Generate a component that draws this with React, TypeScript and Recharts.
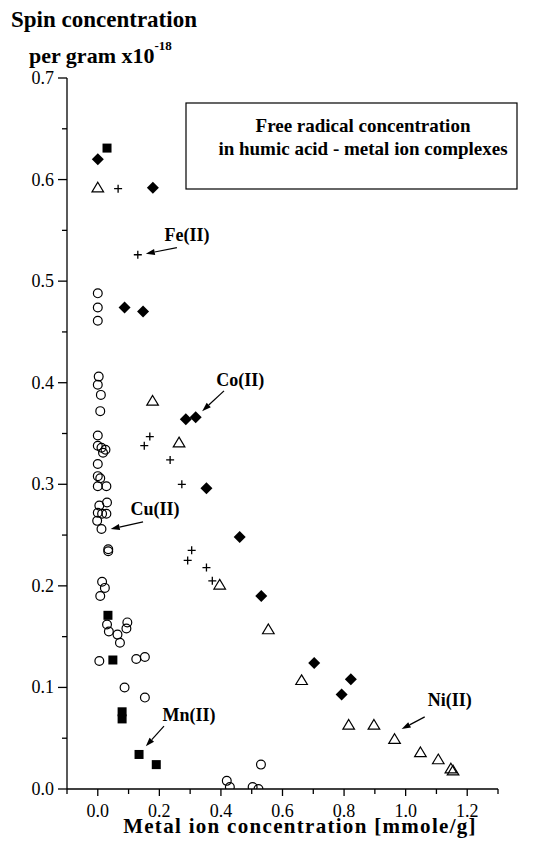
import React from "react";
import {
  ScatterChart,
  Scatter,
  XAxis,
  YAxis,
  ReferenceLine,
  ReferenceDot,
} from "recharts";

const FONT = "'Liberation Serif', 'Times New Roman', serif";
const serif = { fontFamily: FONT };
const serifBold = { fontFamily: FONT, fontWeight: 700 };

// [metal ion mmole/g, spins per gram x1e-18]
const cuPoints: [number, number][] = [
  [0.0, 0.488], [0.0, 0.474], [0.0, 0.461],
  [0.003, 0.406], [0.0, 0.398], [0.01, 0.388], [0.008, 0.372],
  [0.0, 0.348], [0.0, 0.338], [0.012, 0.336], [0.025, 0.334], [0.017, 0.331],
  [0.0, 0.32], [0.0, 0.308], [0.008, 0.306], [0.0, 0.298], [0.028, 0.298],
  [0.03, 0.282], [0.005, 0.279], [0.0, 0.272], [0.014, 0.271], [0.028, 0.271],
  [-0.002, 0.264], [0.012, 0.256],
  [0.034, 0.236], [0.034, 0.234],
  [0.014, 0.204], [0.023, 0.198], [0.008, 0.19],
  [0.03, 0.162], [0.036, 0.155], [0.064, 0.152], [0.096, 0.164], [0.093, 0.158], [0.072, 0.144],
  [0.005, 0.126], [0.125, 0.128], [0.153, 0.13],
  [0.087, 0.1], [0.153, 0.09],
  [0.53, 0.024], [0.419, 0.008], [0.429, 0.002], [0.503, 0.002], [0.522, 0.0],
];
const mnPoints: [number, number][] = [
  [0.03, 0.631], [0.033, 0.171], [0.049, 0.127], [0.079, 0.076],
  [0.079, 0.069], [0.134, 0.034], [0.19, 0.024],
];
const fePoints: [number, number][] = [
  [0.066, 0.591], [0.13, 0.526], [0.169, 0.347], [0.151, 0.338], [0.235, 0.324],
  [0.273, 0.3], [0.305, 0.235], [0.292, 0.225], [0.353, 0.218], [0.372, 0.205],
];
const coPoints: [number, number][] = [
  [0.0, 0.62], [0.179, 0.592], [0.087, 0.474], [0.147, 0.47], [0.286, 0.364],
  [0.318, 0.366], [0.353, 0.296], [0.461, 0.248], [0.531, 0.19], [0.703, 0.124],
  [0.822, 0.108], [0.792, 0.093],
];
const niPoints: [number, number][] = [
  [0.0, 0.592], [0.178, 0.382], [0.264, 0.341], [0.396, 0.201], [0.554, 0.157],
  [0.662, 0.107], [0.815, 0.063], [0.897, 0.063], [0.964, 0.049], [1.048, 0.036],
  [1.106, 0.029], [1.147, 0.02], [1.154, 0.018],
];

const xTicks = [-0.1, 0, 0.1, 0.2, 0.3, 0.4, 0.5, 0.6, 0.7, 0.8, 0.9, 1.0, 1.1, 1.2, 1.3];
const yTicks = [0, 0.05, 0.1, 0.15, 0.2, 0.25, 0.3, 0.35, 0.4, 0.45, 0.5, 0.55, 0.6, 0.65, 0.7];

// label, arrow start, arrow end, label position
const annotations = [
  { text: "Fe(II)", from: [0.257, 0.533], to: [0.156, 0.527], at: [0.29, 0.545] },
  { text: "Co(II)", from: [0.41, 0.392], to: [0.339, 0.372], at: [0.463, 0.403] },
  { text: "Cu(II)", from: [0.147, 0.263], to: [0.042, 0.256], at: [0.186, 0.276] },
  { text: "Mn(II)", from: [0.215, 0.062], to: [0.156, 0.042], at: [0.296, 0.073] },
  { text: "Ni(II)", from: [1.062, 0.071], to: [0.987, 0.059], at: [1.143, 0.088] },
];

const toRows = (pts: [number, number][]) => pts.map(([x, y]) => ({ x, y }));

const OpenCircle = (p: any) => (
  <circle cx={p.cx} cy={p.cy} r={4.4} fill="none" stroke="#000" strokeWidth={1.2} />
);
const FilledSquare = (p: any) => (
  <rect x={p.cx - 4.5} y={p.cy - 4.5} width={9} height={9} fill="#000" />
);
const Plus = (p: any) => (
  <path
    d={`M${p.cx - 4},${p.cy}H${p.cx + 4}M${p.cx},${p.cy - 4}V${p.cy + 4}`}
    stroke="#000"
    strokeWidth={1.3}
  />
);
const Diamond = (p: any) => (
  <path
    d={`M${p.cx},${p.cy - 6}L${p.cx + 6},${p.cy}L${p.cx},${p.cy + 6}L${p.cx - 6},${p.cy}Z`}
    fill="#000"
  />
);
const OpenTriangle = (p: any) => (
  <path
    d={`M${p.cx},${p.cy - 5.5}L${p.cx + 5.8},${p.cy + 4.2}L${p.cx - 5.8},${p.cy + 4.2}Z`}
    fill="none"
    stroke="#000"
    strokeWidth={1.2}
  />
);

const Arrow = (p: any) => {
  const { x1, y1, x2, y2 } = p;
  const a = Math.atan2(y2 - y1, x2 - x1);
  const len = 9;
  const w = 3;
  const bx = x2 - len * Math.cos(a);
  const by = y2 - len * Math.sin(a);
  const nx = -Math.sin(a) * w;
  const ny = Math.cos(a) * w;
  return (
    <g>
      <line x1={x1} y1={y1} x2={bx} y2={by} stroke="#000" strokeWidth={1.2} />
      <path d={`M${x2},${y2}L${bx + nx},${by + ny}L${bx - nx},${by - ny}Z`} fill="#000" />
    </g>
  );
};

const YTick = (p: any) => {
  const v = p.payload.value;
  const major = Math.round(v * 100) % 10 === 0;
  return (
    <g>
      <line x1={p.x} y1={p.y} x2={p.x - (major ? 9 : 5)} y2={p.y} stroke="#000" strokeWidth={1.3} />
      {major && (
        <text x={p.x - 13} y={p.y + 6} textAnchor="end" fontSize={18} style={serif} fill="#000">
          {v.toFixed(1)}
        </text>
      )}
    </g>
  );
};

const XTick = (p: any) => {
  const v = p.payload.value;
  const major = Math.round(v * 10) % 2 === 0;
  return (
    <g>
      <line x1={p.x} y1={p.y} x2={p.x} y2={p.y + (major ? 7 : 5)} stroke="#000" strokeWidth={1.3} />
      {major && v >= 0 && (
        <text x={p.x} y={p.y + 28} textAnchor="middle" fontSize={18} style={serif} fill="#000">
          {v.toFixed(1)}
        </text>
      )}
    </g>
  );
};

export default function App() {
  return (
    <div style={{ position: "relative", width: 533, height: 833, background: "#fff" }}>
      <ScatterChart width={533} height={825} margin={{ top: 70, right: 43, bottom: 0, left: 0 }}>
        <XAxis
          type="number"
          dataKey="x"
          domain={[-0.1, 1.3]}
          ticks={xTicks}
          interval={0}
          allowDataOverflow
          height={44}
          tickSize={0}
          tickMargin={0}
          tickLine={false}
          tick={<XTick />}
          axisLine={{ stroke: "#000", strokeWidth: 1.3 }}
        />
        <YAxis
          type="number"
          dataKey="y"
          domain={[0, 0.7]}
          ticks={yTicks}
          interval={0}
          allowDataOverflow
          width={59}
          tickSize={0}
          tickMargin={0}
          tickLine={false}
          tick={<YTick />}
          axisLine={{ stroke: "#000", strokeWidth: 1.3 }}
        />
        <Scatter name="Cu(II)" data={toRows(cuPoints)} shape={OpenCircle} isAnimationActive={false} />
        <Scatter name="Mn(II)" data={toRows(mnPoints)} shape={FilledSquare} isAnimationActive={false} />
        <Scatter name="Fe(II)" data={toRows(fePoints)} shape={Plus} isAnimationActive={false} />
        <Scatter name="Co(II)" data={toRows(coPoints)} shape={Diamond} isAnimationActive={false} />
        <Scatter name="Ni(II)" data={toRows(niPoints)} shape={OpenTriangle} isAnimationActive={false} />
        {annotations.map((a) => (
          <ReferenceLine
            key={a.text + "-arrow"}
            segment={[
              { x: a.from[0], y: a.from[1] },
              { x: a.to[0], y: a.to[1] },
            ]}
            shape={Arrow}
          />
        ))}
        {annotations.map((a) => (
          <ReferenceDot
            key={a.text}
            x={a.at[0]}
            y={a.at[1]}
            r={0}
            shape={(p: any) => (
              <text x={p.cx} y={p.cy + 6} textAnchor="middle" fontSize={18} style={serifBold} fill="#000">
                {a.text}
              </text>
            )}
          />
        ))}
      </ScatterChart>
      <svg
        width={533}
        height={833}
        style={{ position: "absolute", left: 0, top: 0, pointerEvents: "none", overflow: "visible" }}
      >
        <text x={3} y={19} fontSize={23} style={serifBold}>Spin concentration</text>
        <text x={21} y={55} fontSize={22} style={serifBold}>
          per gram x10
          <tspan dy={-13} fontSize={13}>-18</tspan>
        </text>
        <rect x={178} y={95} width={331} height={86} fill="#fff" stroke="#000" strokeWidth={1.2} />
        <text x={355} y={124} fontSize={19} textAnchor="middle" style={serifBold}>
          Free radical concentration
        </text>
        <text x={355} y={147} fontSize={19} textAnchor="middle" style={serifBold}>
          in humic acid - metal ion complexes
        </text>
        <text
          x={292}
          y={825}
          fontSize={21}
          textAnchor="middle"
          letterSpacing={1.3}
          style={serifBold}
        >
          Metal ion concentration [mmole/g]
        </text>
      </svg>
    </div>
  );
}
